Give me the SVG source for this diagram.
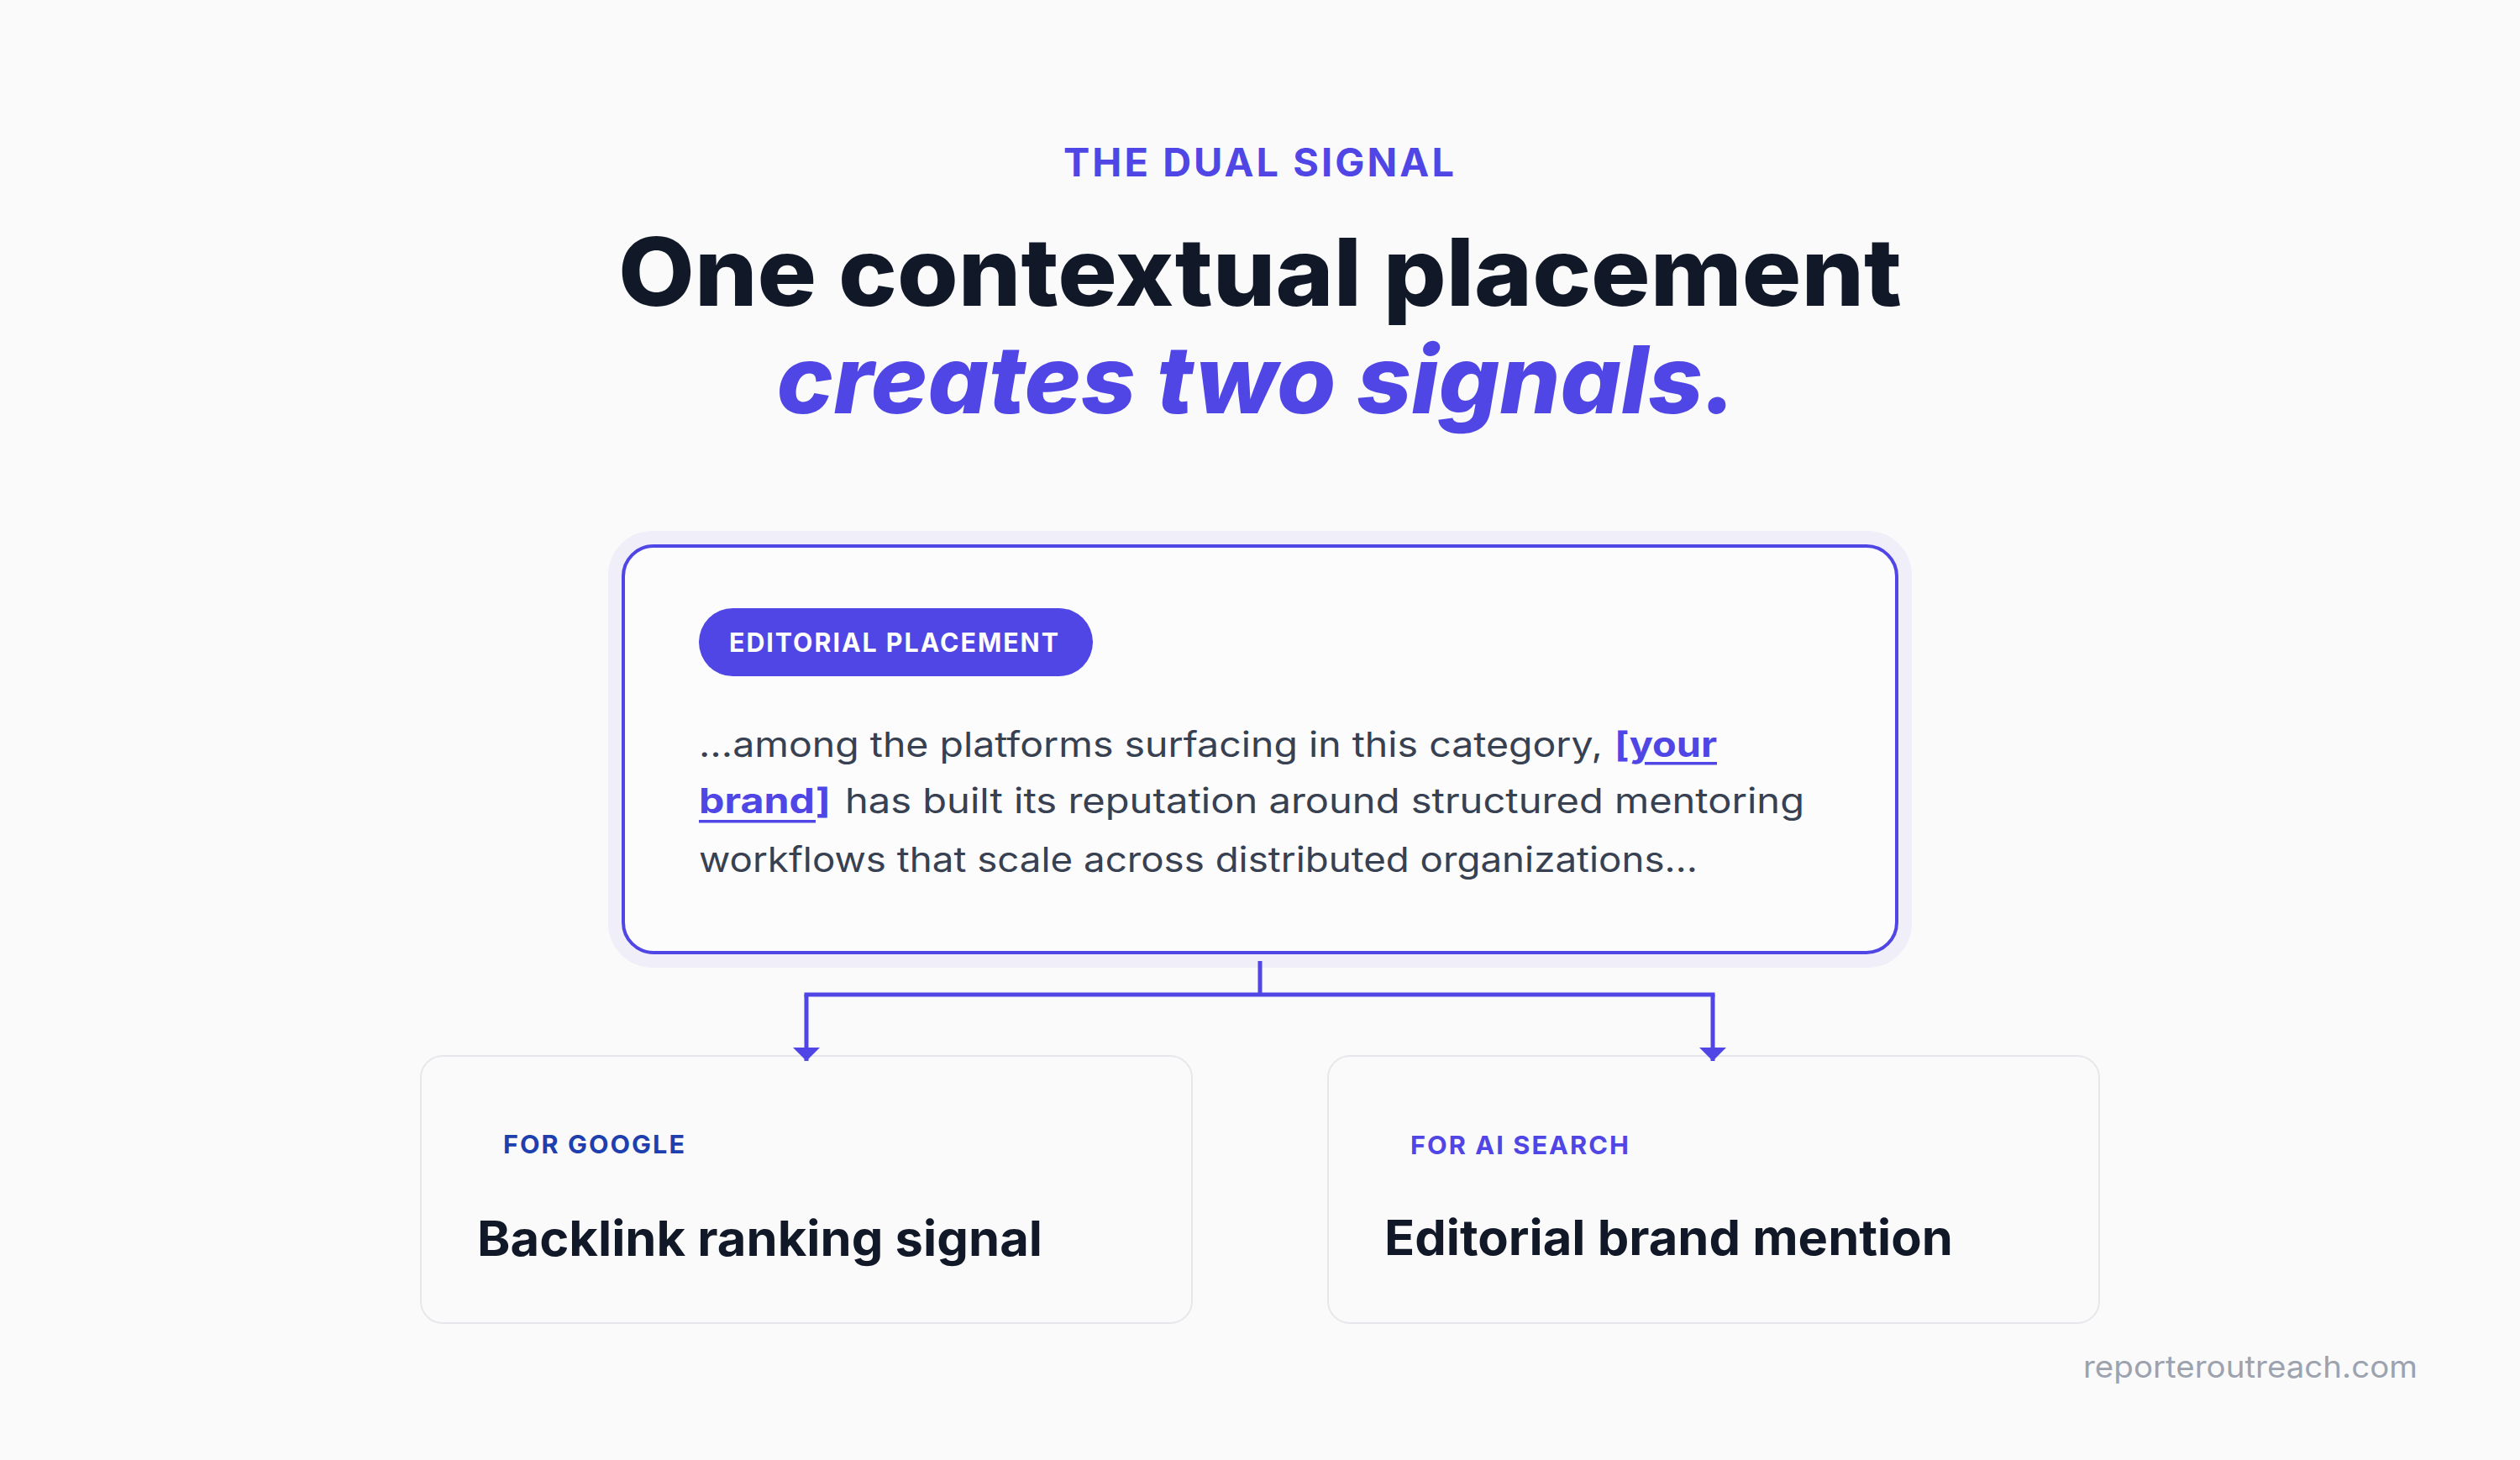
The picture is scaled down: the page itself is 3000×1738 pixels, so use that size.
<svg xmlns="http://www.w3.org/2000/svg" width="3000" height="1738" viewBox="0 0 3000 1738">
<defs>
<style>
.sans{font-family:Inter,"Noto Sans","Liberation Sans",sans-serif}
.eyebrow{font-size:46px;font-weight:700;fill:#4F46E5;letter-spacing:3px}
.h1{font-size:112px;font-weight:800;fill:#111827}
.h2{font-size:112px;font-weight:800;font-style:italic;fill:#4F46E5}
.pill-text{font-size:31px;font-weight:700;fill:#FFFFFF;letter-spacing:2px}
.body{font-size:41px;font-weight:400;fill:#374151}
.link{font-size:41px;font-weight:700;fill:#4F46E5}
.label{font-size:30px;font-weight:700;letter-spacing:2px}
.title{font-size:58px;font-weight:700;fill:#111827}
.foot{font-size:36px;font-weight:400;fill:#9CA3AF}
.card{fill:#FAFAFB;stroke:#E5E7EB;stroke-width:2}
.conn{fill:none;stroke:#4F46E5;stroke-width:5}
</style>
<marker id="arrow" viewBox="0 0 16 32" refX="16" refY="16" markerWidth="16" markerHeight="32" markerUnits="userSpaceOnUse" orient="auto">
<path d="M0,0 L16,16 L0,32 Z" fill="#4F46E5"/>
</marker>
</defs>
<rect x="0" y="0" width="3000" height="1738" fill="#FAFAFA"/>

<g id="header" class="sans">
<text class="eyebrow" x="1500" y="210" text-anchor="middle" textLength="468" lengthAdjust="spacingAndGlyphs">THE DUAL SIGNAL</text>
<text class="h1" x="1500" y="364" text-anchor="middle" textLength="1528" lengthAdjust="spacingAndGlyphs">One contextual placement</text>
<text class="h2" x="1496" y="492" text-anchor="middle" textLength="1143" lengthAdjust="spacingAndGlyphs">creates two signals.</text>
</g>

<g id="placement" class="sans">
<rect x="733" y="641" width="1534" height="502" rx="44" fill="none" stroke="#EFEEF9" stroke-width="18"/>
<rect x="742" y="650" width="1516" height="484" rx="36" fill="#FCFCFD" stroke="#4F46E5" stroke-width="4"/>
<rect x="832" y="724" width="469" height="81" rx="40.5" fill="#4F46E5"/>
<text class="pill-text" x="868" y="776" textLength="394" lengthAdjust="spacingAndGlyphs">EDITORIAL PLACEMENT</text>
<text class="body" x="832" y="901" textLength="1076" lengthAdjust="spacingAndGlyphs">…among the platforms surfacing in this category,</text>
<text class="link" x="1922" y="901" textLength="122" lengthAdjust="spacingAndGlyphs">[your</text>
<rect x="1958" y="907" width="86" height="3.5" fill="#4F46E5"/>
<text class="link" x="832" y="968" textLength="157" lengthAdjust="spacingAndGlyphs">brand]</text>
<rect x="832" y="976" width="139" height="3.5" fill="#4F46E5"/>
<text class="body" x="1006" y="968" textLength="1142" lengthAdjust="spacingAndGlyphs">has built its reputation around structured mentoring</text>
<text class="body" x="832" y="1038" textLength="1189" lengthAdjust="spacingAndGlyphs">workflows that scale across distributed organizations…</text>
</g>

<g id="google" class="sans">
<rect class="card" x="501" y="1257" width="918" height="318" rx="26"/>
<text class="label" x="599" y="1373" fill="#1E40AF" textLength="218" lengthAdjust="spacingAndGlyphs">FOR GOOGLE</text>
<text class="title" x="568" y="1495" textLength="673" lengthAdjust="spacingAndGlyphs">Backlink ranking signal</text>
</g>

<g id="ai-search" class="sans">
<rect class="card" x="1581" y="1257" width="918" height="318" rx="26"/>
<text class="label" x="1679" y="1374" fill="#4F46E5" textLength="262" lengthAdjust="spacingAndGlyphs">FOR AI SEARCH</text>
<text class="title" x="1648" y="1494" textLength="677" lengthAdjust="spacingAndGlyphs">Editorial brand mention</text>
</g>

<g id="connectors">
<path class="conn" d="M1500,1144 V1184"/>
<path class="conn" d="M957.5,1184 H2041.5"/>
<path class="conn" d="M960,1184 V1263" marker-end="url(#arrow)"/>
<path class="conn" d="M2039,1184 V1263" marker-end="url(#arrow)"/>
</g>

<g id="footer" class="sans">
<text class="foot" x="2480" y="1640" textLength="398" lengthAdjust="spacingAndGlyphs">reporteroutreach.com</text>
</g>
</svg>
